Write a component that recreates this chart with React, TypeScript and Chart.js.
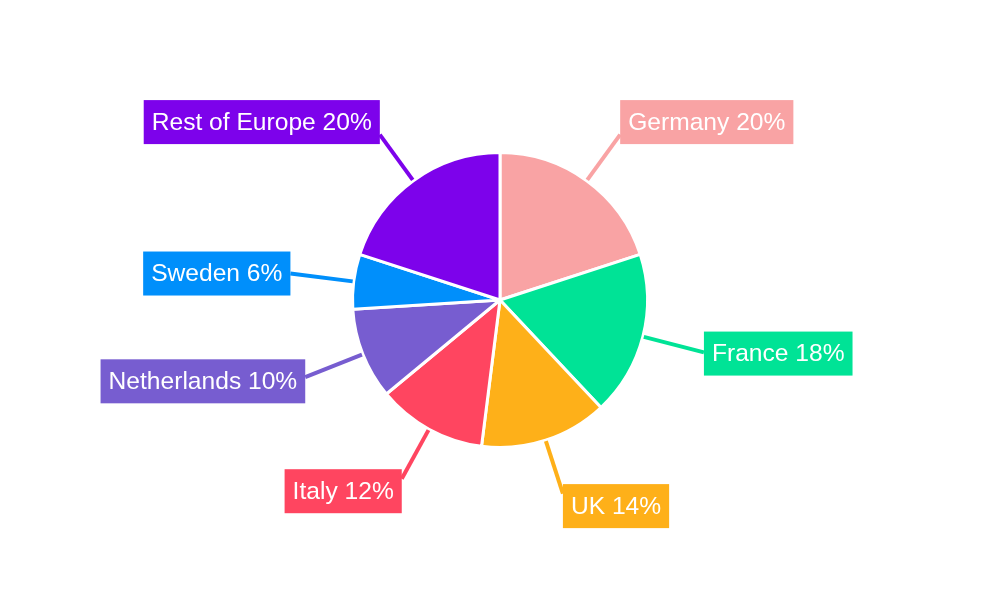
import { useEffect, useRef } from 'react';
import { Chart, registerables } from 'chart.js';

const countries = ['Germany', 'France', 'UK', 'Italy', 'Netherlands', 'Sweden', 'Rest of Europe'];
const shares = [20, 18, 14, 12, 10, 6, 20];
const colors = ['#F9A3A4', '#00E396', '#FEB019', '#FF4560', '#775DD0', '#008FFB', '#7D02EB'];

const labelPlugin = {
	id: 'outsideLabels',
	afterDatasetsDraw(chart: any) {
		const ctx = chart.ctx;
		const meta = chart.getDatasetMeta(0);
		ctx.save();
		ctx.font = '24.6px "Liberation Sans", Arial, sans-serif';
		ctx.textBaseline = 'middle';
		meta.data.forEach((arc: any, i: number) => {
			const { x, y, startAngle, endAngle, outerRadius } = arc.getProps(
				['x', 'y', 'startAngle', 'endAngle', 'outerRadius'],
				true
			);
			const a = (startAngle + endAngle) / 2;
			const c = Math.cos(a);
			const s = Math.sin(a);
			const r0 = outerRadius + 1;
			const r1 = outerRadius + 56 + 8 * Math.pow(c, 4);
			const ex = x + r1 * c;
			const ey = y + r1 * s;
			ctx.strokeStyle = colors[i];
			ctx.lineWidth = 4;
			ctx.beginPath();
			ctx.moveTo(x + r0 * c, y + r0 * s);
			ctx.lineTo(ex, ey);
			ctx.stroke();

			const text = countries[i] + ' ' + shares[i] + '%';
			const w = ctx.measureText(text).width + 16;
			const h = 44;
			const left = c >= 0 ? ex : ex - w;
			const k = Math.min(1, Math.max(0, (Math.abs(s) - 0.2) / 0.5));
			const cy = ey + 12.5 * k * Math.sign(s);
			ctx.fillStyle = colors[i];
			ctx.fillRect(left, cy - h / 2, w, h);
			ctx.fillStyle = '#ffffff';
			ctx.textAlign = 'left';
			ctx.fillText(text, left + 8, cy + 1);
		});
		ctx.restore();
	}
};

export default function App() {
	const canvasRef = useRef<HTMLCanvasElement>(null);
	useEffect(() => {
		document.body.style.margin = '0';
		Chart.register(...registerables);
		const chart = new Chart(canvasRef.current?.getContext('2d') as CanvasRenderingContext2D, {
			type: 'pie',
			data: {
				labels: countries,
				datasets: [
					{
						data: shares,
						backgroundColor: colors,
						borderColor: '#ffffff',
						borderWidth: 3
					}
				]
			},
			options: {
				animation: false,
				responsive: false,
				layout: { padding: { top: 151, bottom: 151 } },
				plugins: {
					legend: { display: false },
					tooltip: { enabled: false },
					title: { display: false }
				}
			},
			plugins: [labelPlugin]
		});
		return () => {
			chart.destroy();
		};
	});

	return (
		<div style={{ width: 1000, height: 600 }}>
			<canvas ref={canvasRef} width={1000} height={600}></canvas>
		</div>
	);
}
